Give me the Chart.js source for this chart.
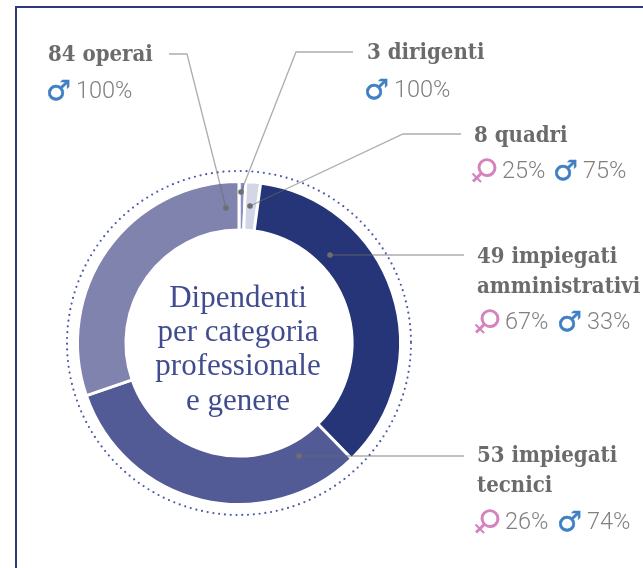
<!DOCTYPE html>
<html lang="it">
<head>
<meta charset="utf-8">
<title>Dipendenti per categoria professionale e genere</title>
<script src="https://cdn.jsdelivr.net/npm/chart.js@4"></script>
<style>
  html, body { margin: 0; padding: 0; background: #fff; }
  #page { position: relative; width: 643px; height: 568px; overflow: hidden; }
  #frame { position: absolute; left: 15px; top: 6px; width: 800px; height: 800px; border: 2px solid #2b3a80; }
  #chart { position: absolute; left: 0; top: 0; }
  .t { position: absolute; white-space: nowrap; line-height: 1; }
  .name { font: bold 22px "DejaVu Serif Condensed", "DejaVu Serif", serif; color: #6b6b6b; }
  .pct { font: 300 23.5px Roboto, sans-serif; color: #808080; }
  .ico { font: 28px "DejaVu Sans", sans-serif; }
  .male { color: #3f7fc4; -webkit-text-stroke: 0.5px #3f7fc4; }
  .female { color: #d583bd; font-size: 34px; transform: rotate(45deg); }
  .center { font: 31px "Liberation Serif", serif; color: #414c8f; text-align: center; width: 240px; left: 118px; }
</style>
</head>
<body>
<div id="page">
  <div id="frame"></div>
  <canvas id="chart" width="643" height="568"></canvas>
</div>
<script>
// order is clockwise from 12 o'clock
const categories = ['3 dirigenti', '8 quadri', '49 impiegati amministrativi', '53 impiegati tecnici', '84 operai'];
// arc widths as drawn in the picture (they don't follow the head counts)
const arcShares = [2.4, 5.3, 128.1, 115.2, 109];
const femalePct = [null, 25, 67, 26, null];
const malePct = [100, 75, 33, 74, 100];
const centerLines = ['Dipendenti', 'per categoria', 'professionale', 'e genere'];
const sliceColors = ['#8a90bf', '#d3d6e6', '#263578', '#525b96', '#8083ae'];

// --- label layout: name lines, x, first baseline, pct baseline, pct columns ---
const labelLayout = [
  { lines: ['3 dirigenti'], x: 367, y: 56, pctY: 94, female: null, male: 366 },
  { lines: ['8 quadri'], x: 474, y: 139, pctY: 175, female: 474, male: 555 },
  { lines: ['49 impiegati', 'amministrativi'], x: 477, y: 260, pctY: 326, female: 477, male: 559 },
  { lines: ['53 impiegati', 'tecnici'], x: 477, y: 459, pctY: 526, female: 477, male: 559 },
  { lines: ['84 operai'], x: 48, y: 58, pctY: 95, female: null, male: 48 }
];

// leader lines, from the label end to the dot on the ring
const leaders = [
  [[353, 52], [296, 52], [241, 192]],
  [[461, 134], [403, 134], [250, 206]],
  [[464, 255], [330, 255]],
  [[464, 456], [299, 456]],
  [[169, 54], [187, 54], [226, 208]]
];

const ringAndLeaders = {
  id: 'ringAndLeaders',
  afterDatasetsDraw(chart) {
    const ctx = chart.ctx;
    const arc = chart.getDatasetMeta(0).data[0];

    // dotted ring round the doughnut
    ctx.save();
    ctx.beginPath();
    ctx.arc(arc.x, arc.y, arc.outerRadius + 10.5, 0, Math.PI * 2);
    ctx.setLineDash([0, 5.8]);
    ctx.lineCap = 'round';
    ctx.lineWidth = 2.2;
    ctx.strokeStyle = '#4f5ca6';
    ctx.stroke();
    ctx.restore();

    ctx.save();
    leaders.forEach(pts => {
      ctx.beginPath();
      pts.forEach((p, i) => i ? ctx.lineTo(p[0], p[1]) : ctx.moveTo(p[0], p[1]));
      ctx.lineWidth = 1.3;
      ctx.strokeStyle = 'rgba(105,105,105,0.55)';
      ctx.stroke();
      const end = pts[pts.length - 1];
      ctx.beginPath();
      ctx.arc(end[0], end[1], 2.8, 0, Math.PI * 2);
      ctx.fillStyle = '#6e6e6e';
      ctx.fill();
    });
    ctx.restore();
  }
};

new Chart(document.getElementById('chart'), {
  type: 'doughnut',
  data: {
    labels: categories,
    datasets: [{
      data: arcShares,
      backgroundColor: sliceColors,
      borderColor: '#fff',
      borderWidth: 3
    }]
  },
  options: {
    responsive: false,
    animation: false,
    cutout: '70%',
    layout: { padding: { left: 76, right: 241, top: 180, bottom: 62 } },
    plugins: { legend: { display: false }, tooltip: { enabled: false } }
  },
  plugins: [ringAndLeaders]
});

// --- text ---
const page = document.getElementById('page');

function addText(cls, text, x, baseline, size) {
  const el = document.createElement('div');
  el.className = 't ' + cls;
  el.textContent = text;
  el.style.left = x + 'px';
  el.style.top = (baseline - size * 0.8) + 'px';
  page.appendChild(el);
  return el;
}

function addPct(kind, value, x, baseline) {
  if (kind === 'male') addText('ico male', '♂', x - 2, baseline + 1, 28);
  else addText('ico female', '♀', x - 2, baseline + 2, 34);
  addText('pct', value + '%', x + 28, baseline, 23.5);
}

labelLayout.forEach((lab, i) => {
  lab.lines.forEach((line, j) => addText('name', line, lab.x, lab.y + j * 29.5, 22));
  if (femalePct[i] !== null) addPct('female', femalePct[i], lab.female, lab.pctY);
  addPct('male', malePct[i], lab.male, lab.pctY);
});

centerLines.forEach((line, i) => {
  const el = document.createElement('div');
  el.className = 't center';
  el.textContent = line;
  el.style.top = (302.5 + i * 34.4 - 24) + 'px';
  page.appendChild(el);
});
</script>
</body>
</html>
